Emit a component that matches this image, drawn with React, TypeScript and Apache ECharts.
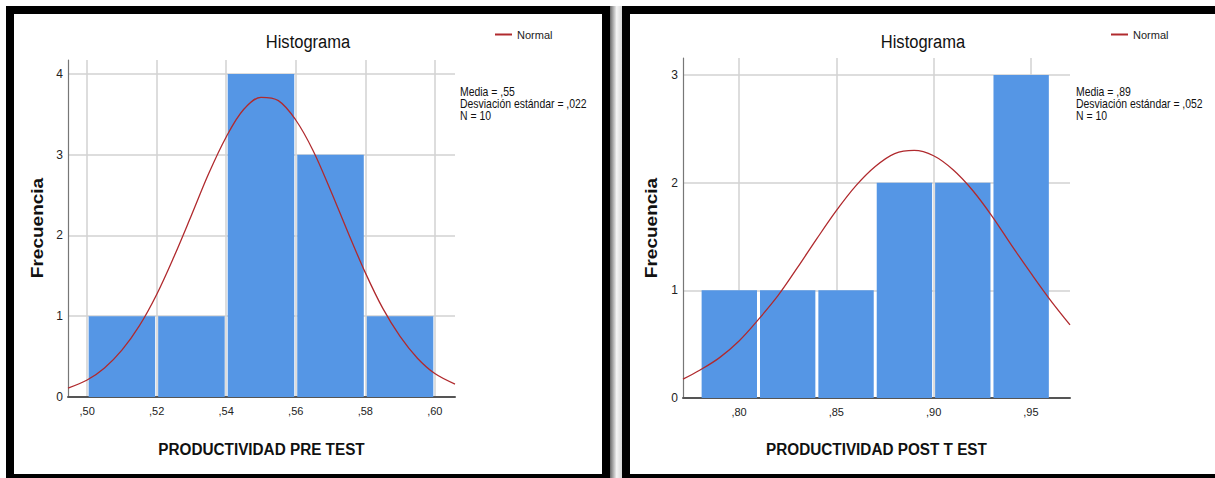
import React, { useEffect, useRef } from "react";
import * as echarts from "echarts";

// ---- PRE TEST data ----
const preBinStart = [0.5, 0.52, 0.54, 0.56, 0.58];
const preBinEnd = [0.52, 0.54, 0.56, 0.58, 0.6];
const preCounts = [1, 1, 4, 3, 1];
const preXTicks = [0.5, 0.52, 0.54, 0.56, 0.58, 0.6];
const preYTicks = [0, 1, 2, 3, 4];
const preCurveX = [0.4945, 0.5, 0.505, 0.51, 0.515, 0.52, 0.525, 0.53, 0.535, 0.54, 0.545, 0.55, 0.555, 0.56, 0.565, 0.57, 0.575, 0.58, 0.585, 0.59, 0.595, 0.6, 0.6058];
const preCurveY = [0.11, 0.21, 0.36, 0.58, 0.88, 1.27, 1.74, 2.25, 2.77, 3.22, 3.56, 3.71, 3.67, 3.43, 3.05, 2.56, 2.04, 1.54, 1.1, 0.75, 0.48, 0.29, 0.16];
const preStats = ["Media = ,55", "Desviación estándar = ,022", "N = 10"];

// ---- POST TEST data ----
const postBinStart = [0.78, 0.81, 0.84, 0.87, 0.9, 0.93];
const postBinEnd = [0.81, 0.84, 0.87, 0.9, 0.93, 0.96];
const postCounts = [1, 1, 1, 2, 2, 3];
const postXTicks = [0.8, 0.85, 0.9, 0.95];
const postYTicks = [0, 1, 2, 3];
const postCurveX = [0.7712, 0.78, 0.79, 0.8, 0.81, 0.82, 0.83, 0.84, 0.85, 0.86, 0.87, 0.88, 0.89, 0.9, 0.91, 0.92, 0.93, 0.94, 0.95, 0.96, 0.9701];
const postCurveY = [0.175, 0.26, 0.375, 0.53, 0.73, 0.95, 1.21, 1.48, 1.74, 1.97, 2.15, 2.27, 2.3, 2.25, 2.12, 1.93, 1.69, 1.42, 1.16, 0.91, 0.68];
const postStats = ["Media = ,89", "Desviación estándar = ,052", "N = 10"];

const TITLE = "Histograma";
const Y_NAME = "Frecuencia";
const PRE_X_NAME = "PRODUCTIVIDAD PRE TEST";
const POST_X_NAME = "PRODUCTIVIDAD POST T EST";
const LEGEND_NAME = "Normal";

const FONT = '"Liberation Sans", Arial, sans-serif';
const BAR_COLOR = "#5596e5";
const CURVE_COLOR = "#b02a2e";
const GRID_COLOR = "#d2d2d2";

const fmtX = (v: number) => "," + v.toFixed(2).split(".")[1];

function histData(starts: number[], ends: number[], counts: number[]) {
  return starts.map((s, i) => [s, ends[i], counts[i]]);
}
function curveData(xs: number[], ys: number[]) {
  return xs.map((x, i) => [x, ys[i]]);
}

const renderBar = (params: any, api: any) => {
  const x0 = api.value(0);
  const x1 = api.value(1);
  const h = api.value(2);
  const p0 = api.coord([x0, h]);
  const p1 = api.coord([x1, 0]);
  return {
    type: "rect",
    shape: { x: p0[0] + 1.5, y: p0[1], width: p1[0] - p0[0] - 3, height: p1[1] - p0[1] },
    style: { fill: BAR_COLOR },
  };
};

function makeXAxis(gridIndex: number, min: number, max: number, ticks: number[]) {
  return {
    type: "value",
    gridIndex,
    min,
    max,
    axisLine: { show: true, lineStyle: { color: "#555", width: 2 } },
    axisTick: { show: false, customValues: ticks },
    axisLabel: {
      customValues: ticks,
      formatter: fmtX,
      color: "#222",
      fontSize: 11,
      fontFamily: FONT,
      margin: 8,
    },
    splitLine: { show: true, lineStyle: { color: GRID_COLOR, width: 1.5 } },
  };
}
function makeYAxis(gridIndex: number, max: number, ticks: number[]) {
  return {
    type: "value",
    gridIndex,
    min: 0,
    max,
    axisLine: { show: true, lineStyle: { color: "#777", width: 1.2 } },
    axisTick: { show: false, customValues: ticks },
    axisLabel: {
      customValues: ticks,
      color: "#222",
      fontSize: 12,
      fontFamily: FONT,
      margin: 5,
    },
    splitLine: { show: true, lineStyle: { color: GRID_COLOR, width: 1.5 } },
  };
}

function textEl(text: string, x: number, y: number, size: number, opts: any = {}) {
  return {
    type: "text",
    x,
    y,
    scaleX: opts.scaleX ?? 0.87,
    scaleY: opts.scaleY ?? 1,
    rotation: opts.rotation ?? 0,
    silent: true,
    style: {
      text,
      x: 0,
      y: 0,
      fontSize: size,
      fontFamily: FONT,
      fontWeight: opts.bold ? "bold" : "normal",
      fill: opts.color ?? "#111",
      textAlign: opts.align ?? "center",
      textVerticalAlign: opts.valign ?? "middle",
      lineHeight: opts.lineHeight,
    },
  };
}

function legendFor(left: number) {
  return {
    data: [LEGEND_NAME],
    left,
    top: 29,
    padding: 0,
    icon: "rect",
    itemWidth: 17,
    itemHeight: 2,
    selectedMode: false,
    textStyle: { fontSize: 11, color: "#222", fontFamily: FONT },
  };
}

export default function App() {
  const ref = useRef<HTMLDivElement>(null);
  useEffect(() => {
    if (!ref.current) return;
    const chart = echarts.init(ref.current, null, { renderer: "svg" });
    const option: any = {
      animation: false,
      backgroundColor: "#ffffff",
      grid: [
        { left: 68, top: 60, width: 387, height: 337 },
        { left: 683, top: 58, width: 387, height: 340 },
      ],
      xAxis: [
        makeXAxis(0, 0.4945, 0.6058, preXTicks),
        makeXAxis(1, 0.7712, 0.9701, postXTicks),
      ],
      yAxis: [makeYAxis(0, 4.173, preYTicks), makeYAxis(1, 3.158, postYTicks)],
      legend: [legendFor(495), legendFor(1111)],
      series: [
        {
          type: "custom",
          name: "pre",
          xAxisIndex: 0,
          yAxisIndex: 0,
          renderItem: renderBar,
          encode: { x: [0, 1], y: 2 },
          data: histData(preBinStart, preBinEnd, preCounts),
          z: 2,
        },
        {
          type: "line",
          name: LEGEND_NAME,
          xAxisIndex: 0,
          yAxisIndex: 0,
          data: curveData(preCurveX, preCurveY),
          smooth: 0.35,
          showSymbol: false,
          color: CURVE_COLOR,
          lineStyle: { color: CURVE_COLOR, width: 1.3 },
          z: 3,
        },
        {
          type: "custom",
          name: "post",
          xAxisIndex: 1,
          yAxisIndex: 1,
          renderItem: renderBar,
          encode: { x: [0, 1], y: 2 },
          data: histData(postBinStart, postBinEnd, postCounts),
          z: 2,
        },
        {
          type: "line",
          name: LEGEND_NAME,
          xAxisIndex: 1,
          yAxisIndex: 1,
          data: curveData(postCurveX, postCurveY),
          smooth: 0.35,
          showSymbol: false,
          color: CURVE_COLOR,
          lineStyle: { color: CURVE_COLOR, width: 1.3 },
          z: 3,
        },
      ],
      graphic: [
        // panel frames
        {
          type: "rect",
          silent: true,
          shape: { x: 10, y: 10, width: 596, height: 468 },
          style: { fill: "transparent", stroke: "#000", lineWidth: 8 },
        },
        {
          type: "rect",
          silent: true,
          shape: { x: 610, y: 6, width: 12, height: 472 },
          style: {
            fill: new echarts.graphic.LinearGradient(0, 0, 1, 0, [
              { offset: 0, color: "#6a6a6a" },
              { offset: 0.55, color: "#f4f4f4" },
              { offset: 1, color: "#d8d8d8" },
            ]),
          },
        },
        {
          type: "rect",
          silent: true,
          shape: { x: 626, y: 10, width: 620, height: 468 },
          style: { fill: "transparent", stroke: "#000", lineWidth: 8 },
        },
        // titles
        textEl(TITLE, 308, 42, 19),
        textEl(TITLE, 923, 42, 19),
        // x axis names
        textEl(PRE_X_NAME, 261.5, 449, 17, { bold: true, scaleX: 0.9 }),
        textEl(POST_X_NAME, 876.5, 449, 17, { bold: true, scaleX: 0.9 }),
        // y axis names
        textEl(Y_NAME, 37, 228, 19, { bold: true, rotation: Math.PI / 2, scaleX: 1, scaleY: 0.87 }),
        textEl(Y_NAME, 651, 228, 19, { bold: true, rotation: Math.PI / 2, scaleX: 1, scaleY: 0.87 }),
        // stats
        textEl(preStats.join("\n"), 460, 86, 12, { align: "left", valign: "top", lineHeight: 12 }),
        textEl(postStats.join("\n"), 1076, 86, 12, { align: "left", valign: "top", lineHeight: 12 }),
      ],
    };
    chart.setOption(option);
    return () => chart.dispose();
  }, []);
  return (
    <div
      ref={ref}
      style={{ position: "absolute", left: 0, top: 0, width: 1215, height: 478, background: "#fff" }}
    />
  );
}
